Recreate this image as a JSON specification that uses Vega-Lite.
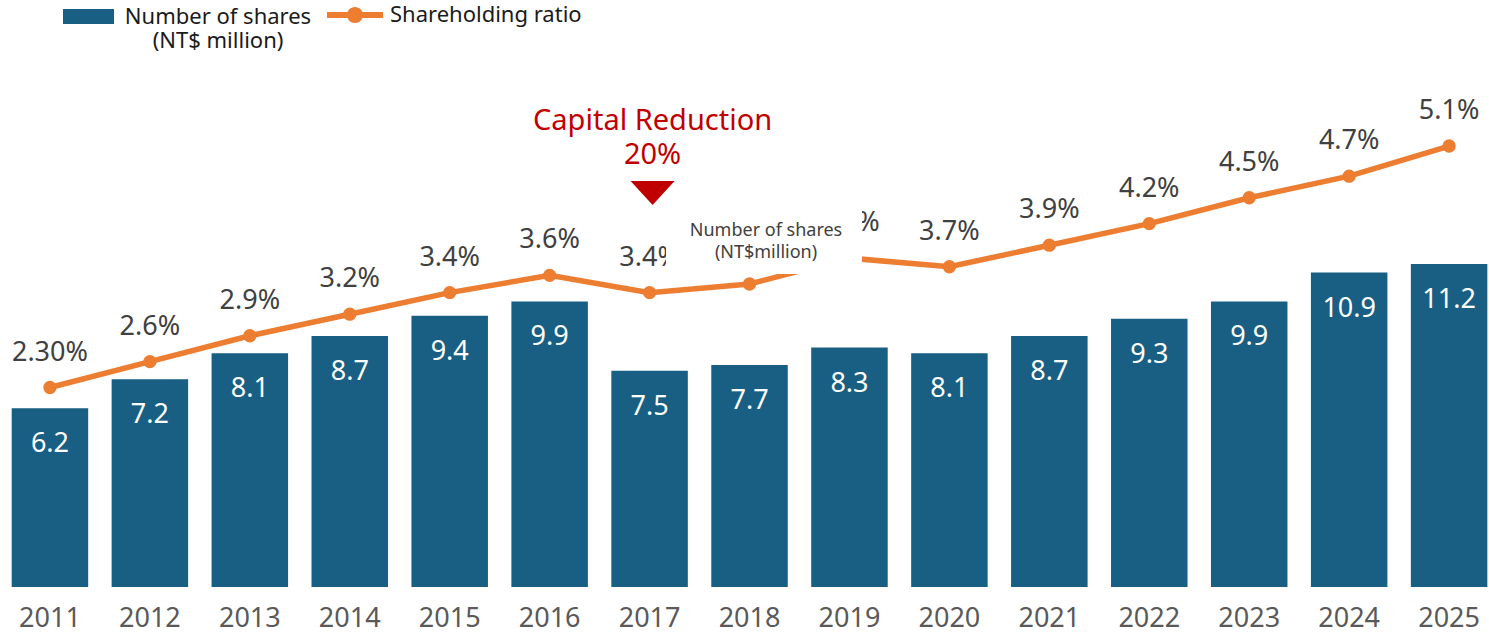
{
  "$schema": "https://vega.github.io/schema/vega-lite/v6.json",
  "width": 1489,
  "height": 587,
  "autosize": {"type": "none"},
  "padding": {"left": 0, "top": 0, "right": 0, "bottom": 46},
  "background": "white",
  "config": {"view": {"stroke": null}, "font": "Noto Sans", "text": {"font": "Noto Sans"}},
  "data": {"values": [
    {"year": "2011", "shares": 6.2, "ratio": 2.3, "ratioLabel": "2.30%"},
    {"year": "2012", "shares": 7.2, "ratio": 2.6, "ratioLabel": "2.6%"},
    {"year": "2013", "shares": 8.1, "ratio": 2.9, "ratioLabel": "2.9%"},
    {"year": "2014", "shares": 8.7, "ratio": 3.15, "ratioLabel": "3.2%"},
    {"year": "2015", "shares": 9.4, "ratio": 3.4, "ratioLabel": "3.4%"},
    {"year": "2016", "shares": 9.9, "ratio": 3.6, "ratioLabel": "3.6%"},
    {"year": "2017", "shares": 7.5, "ratio": 3.4, "ratioLabel": "3.4%"},
    {"year": "2018", "shares": 7.7, "ratio": 3.5, "ratioLabel": "3.5%"},
    {"year": "2019", "shares": 8.3, "ratio": 3.8, "ratioLabel": "3.8%"},
    {"year": "2020", "shares": 8.1, "ratio": 3.7, "ratioLabel": "3.7%"},
    {"year": "2021", "shares": 8.7, "ratio": 3.95, "ratioLabel": "3.9%"},
    {"year": "2022", "shares": 9.3, "ratio": 4.2, "ratioLabel": "4.2%"},
    {"year": "2023", "shares": 9.9, "ratio": 4.5, "ratioLabel": "4.5%"},
    {"year": "2024", "shares": 10.9, "ratio": 4.75, "ratioLabel": "4.7%"},
    {"year": "2025", "shares": 11.2, "ratio": 5.1, "ratioLabel": "5.1%"}
  ]},
  "encoding": {
    "x": {
      "field": "year", "type": "ordinal",
      "scale": {"paddingInner": 0.2346, "paddingOuter": 0.0668, "align": 0.876},
      "axis": {"title": null, "domain": false, "ticks": false, "labelAngle": 0, "labelFontSize": 27, "labelColor": "#595959", "labelPadding": 18, "labelFont": "Noto Sans"}
    }
  },
  "layer": [
    {
      "mark": {"type": "bar"},
      "encoding": {
        "y": {"field": "shares", "type": "quantitative", "scale": {"domain": [0, 20.35], "nice": false, "zero": false}, "axis": null},
        "fill": {
          "datum": "Number of shares",
          "scale": {"range": ["#185f83"]},
          "legend": {
            "orient": "none", "legendX": 63, "legendY": -9, "title": null, "padding": 0,
            "symbolType": "M-1,-0.294L1,-0.294L1,0.294L-1,0.294Z", "symbolSize": 2601,
            "symbolStrokeWidth": 0, "symbolOpacity": 1,
            "labelFont": "Noto Sans", "labelFontSize": 22, "labelColor": "#1a1a1a", "labelLimit": 600,
            "labelOffset": 104, "labelAlign": "center", "labelBaseline": "middle",
            "labelExpr": "['Number of shares', '(NT$ million)']"
          }
        }
      }
    },
    {
      "mark": {"type": "text", "color": "white", "fontSize": 27, "baseline": "middle", "dy": 36},
      "encoding": {
        "y": {"field": "shares", "type": "quantitative", "scale": {"domain": [0, 20.35], "nice": false, "zero": false}, "axis": null},
        "text": {"field": "shares", "type": "quantitative", "format": ".1f"}
      }
    },
    {
      "mark": {"type": "line", "strokeWidth": 5.5},
      "encoding": {
        "y": {"field": "ratio", "type": "quantitative", "scale": {"domain": [-0.013, 6.793], "nice": false, "zero": false}, "axis": null},
        "stroke": {
          "datum": "Shareholding ratio",
          "scale": {"range": ["#ED7D31"]},
          "legend": {
            "orient": "none", "legendX": 327, "legendY": -13, "title": null, "padding": 0,
            "symbolType": "M-1,-0.107L1,-0.107L1,0.107L-1,0.107Z M0.286,0 A0.286,0.286 0 1,1 -0.286,0 A0.286,0.286 0 1,1 0.286,0 Z",
            "symbolSize": 3136,
            "labelFont": "Noto Sans", "labelFontSize": 22, "labelColor": "#1a1a1a", "labelLimit": 600,
            "labelOffset": 7,
            "encode": {"symbols": {"update": {"fill": {"value": "#ED7D31"}, "strokeWidth": {"value": 0}, "opacity": {"value": 1}}}}
          }
        }
      }
    },
    {
      "mark": {"type": "point", "filled": true, "opacity": 1, "color": "#ED7D31", "size": 177},
      "encoding": {
        "y": {"field": "ratio", "type": "quantitative", "scale": {"domain": [-0.013, 6.793], "nice": false, "zero": false}, "axis": null}
      }
    },
    {
      "mark": {"type": "text", "color": "#404040", "fontSize": 27, "baseline": "middle", "dy": -35},
      "encoding": {
        "y": {"field": "ratio", "type": "quantitative", "scale": {"domain": [-0.013, 6.793], "nice": false, "zero": false}, "axis": null},
        "text": {"field": "ratioLabel", "type": "nominal"}
      }
    },
    {
      "data": {"values": [{"year": "2017", "note": "Capital Reduction", "pct": "20%"}]},
      "mark": {"type": "text", "color": "#C00000", "fontSize": 29, "baseline": "middle", "lineHeight": 34, "dx": 3},
      "encoding": {
        "y": {"datum": 5.39, "type": "quantitative", "scale": {"domain": [-0.013, 6.793], "nice": false, "zero": false}, "axis": null},
        "text": {"value": ["Capital Reduction", "20%"]}
      }
    },
    {
      "data": {"values": [{"year": "2017"}]},
      "mark": {"type": "point", "filled": true, "opacity": 1, "color": "#C00000", "size": 1936, "shape": "M-1,-0.545L1,-0.545L0,0.545Z", "xOffset": 3},
      "encoding": {
        "y": {"datum": 4.555, "type": "quantitative", "scale": {"domain": [-0.013, 6.793], "nice": false, "zero": false}, "axis": null}
      }
    },
    {
      "data": {"values": [{"year": "2018"}]},
      "mark": {"type": "bar", "color": "white", "width": 196, "xOffset": 14.5},
      "encoding": {
        "y": {"datum": 4.381, "type": "quantitative", "scale": {"domain": [-0.013, 6.793], "nice": false, "zero": false}, "axis": null},
        "y2": {"datum": 3.616}
      }
    },
    {
      "data": {"values": [{"year": "2018"}]},
      "mark": {"type": "text", "color": "#404040", "fontSize": 18, "baseline": "middle", "lineHeight": 22, "dx": 16.5},
      "encoding": {
        "y": {"datum": 4.114, "type": "quantitative", "scale": {"domain": [-0.013, 6.793], "nice": false, "zero": false}, "axis": null},
        "text": {"value": ["Number of shares", "(NT$million)"]}
      }
    }
  ],
  "resolve": {"scale": {"y": "independent"}}
}
